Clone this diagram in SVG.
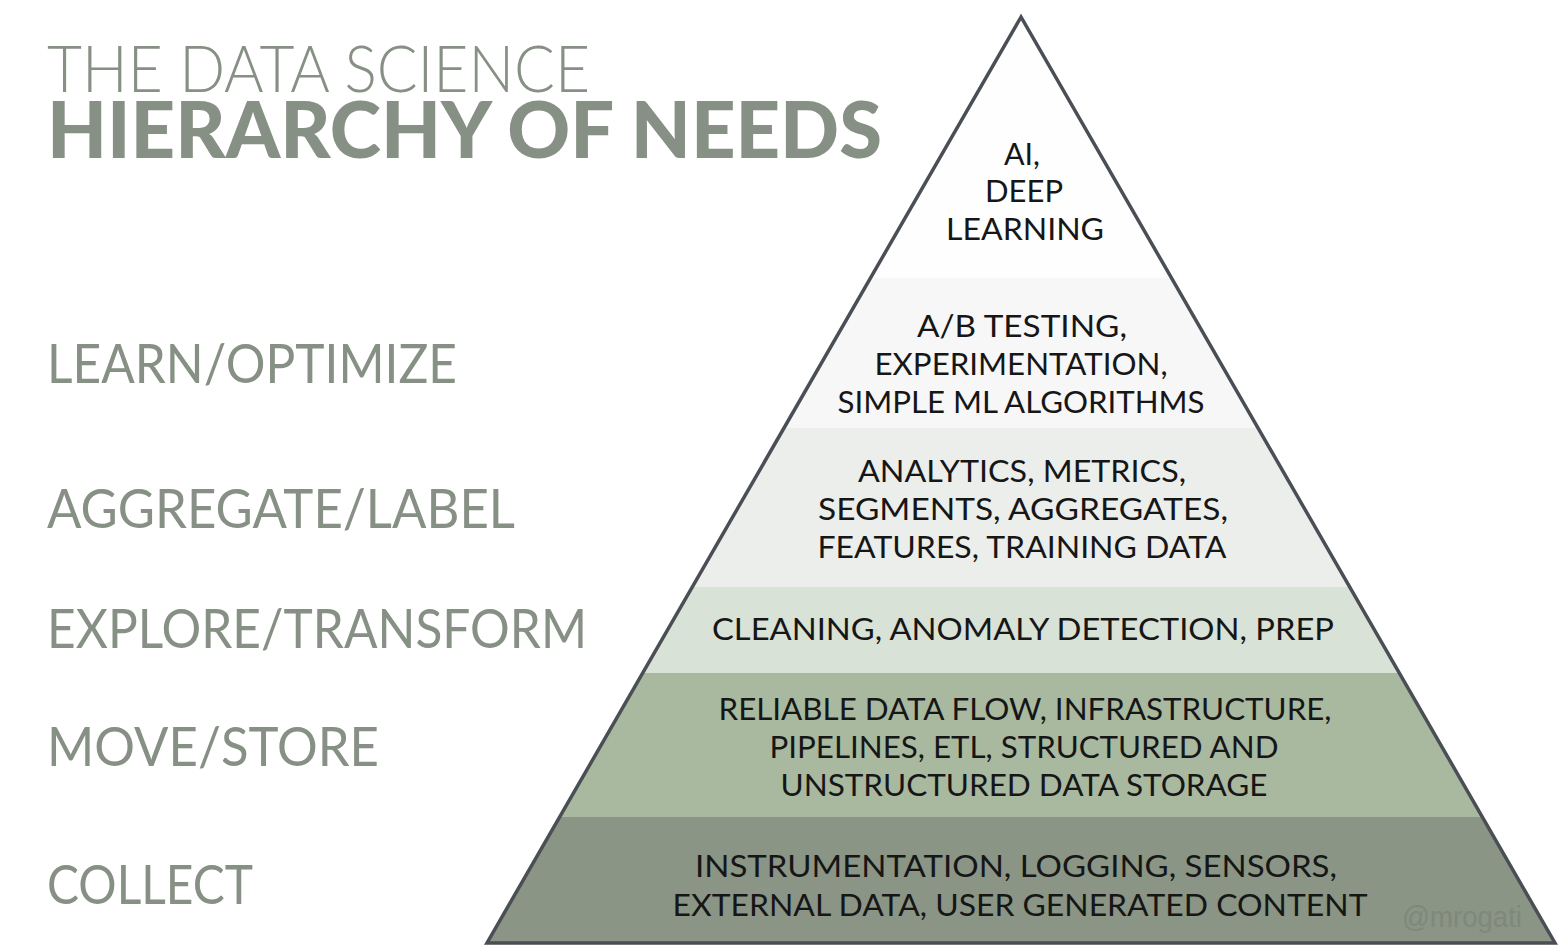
<svg xmlns="http://www.w3.org/2000/svg" width="1564" height="951" viewBox="0 0 1564 951">
  <defs>
    <clipPath id="pyr">
      <polygon points="1021,17 487,943 1555,943"/>
    </clipPath>
    <style>
      .title { font-family: Lato, "Liberation Sans", sans-serif; fill: #879084; }
      .lvl { font-family: Lato, "Liberation Sans", sans-serif; font-size: 54px; fill: #879084; }
      .band { font-family: Lato, "Liberation Sans", sans-serif; font-size: 30px; fill: #161616; text-anchor: middle; }
      .edge { fill: none; stroke: #4a4f55; stroke-width: 3.5; stroke-linejoin: miter; }
    </style>
  </defs>
  <rect width="1564" height="951" fill="#ffffff"/>

  <!-- heading -->
  <g id="heading">
    <text class="title" x="47" y="92" font-size="65" font-weight="300" textLength="543" lengthAdjust="spacingAndGlyphs">THE DATA SCIENCE</text>
    <text class="title" x="47" y="158" font-size="78" font-weight="900" textLength="835" lengthAdjust="spacingAndGlyphs">HIERARCHY OF NEEDS</text>
  </g>

  <!-- level names on the left -->
  <g id="levels">
    <text class="lvl" x="47" y="383" textLength="410" lengthAdjust="spacingAndGlyphs">LEARN/OPTIMIZE</text>
    <text class="lvl" x="47" y="528" textLength="468" lengthAdjust="spacingAndGlyphs">AGGREGATE/LABEL</text>
    <text class="lvl" x="47" y="648" textLength="540" lengthAdjust="spacingAndGlyphs">EXPLORE/TRANSFORM</text>
    <text class="lvl" x="47" y="766" textLength="332" lengthAdjust="spacingAndGlyphs">MOVE/STORE</text>
    <text class="lvl" x="47" y="904" textLength="206" lengthAdjust="spacingAndGlyphs">COLLECT</text>
  </g>

  <!-- pyramid bands -->
  <g id="pyramid" clip-path="url(#pyr)">
    <rect id="tier-ai" x="480" y="10" width="1090" height="268" fill="#fefefe"/>
    <rect id="tier-learn" x="480" y="278" width="1090" height="150" fill="#f7f7f7"/>
    <rect id="tier-aggregate" x="480" y="428" width="1090" height="159" fill="#eceeeb"/>
    <rect id="tier-explore" x="480" y="587" width="1090" height="86" fill="#d9e2d6"/>
    <rect id="tier-move" x="480" y="673" width="1090" height="144" fill="#a8b9a0"/>
    <rect id="tier-collect" x="480" y="817" width="1090" height="130" fill="#8a9585"/>
  </g>
  <polygon class="edge" points="1021,17 487,943 1555,943"/>

  <!-- band captions -->
  <g id="captions">
    <text class="band" x="1022" y="165" textLength="36" lengthAdjust="spacingAndGlyphs">AI,</text>
    <text class="band" x="1024" y="202" textLength="78" lengthAdjust="spacingAndGlyphs">DEEP</text>
    <text class="band" x="1025" y="240" textLength="158" lengthAdjust="spacingAndGlyphs">LEARNING</text>

    <text class="band" x="1022" y="337" textLength="210" lengthAdjust="spacingAndGlyphs">A/B TESTING,</text>
    <text class="band" x="1021" y="375" textLength="293" lengthAdjust="spacingAndGlyphs">EXPERIMENTATION,</text>
    <text class="band" x="1021" y="413" textLength="367" lengthAdjust="spacingAndGlyphs">SIMPLE ML ALGORITHMS</text>

    <text class="band" x="1022" y="482" textLength="328" lengthAdjust="spacingAndGlyphs">ANALYTICS, METRICS,</text>
    <text class="band" x="1023" y="520" textLength="410" lengthAdjust="spacingAndGlyphs">SEGMENTS, AGGREGATES,</text>
    <text class="band" x="1022" y="558" textLength="409" lengthAdjust="spacingAndGlyphs">FEATURES, TRAINING DATA</text>

    <text class="band" x="1023" y="640" textLength="622" lengthAdjust="spacingAndGlyphs">CLEANING, ANOMALY DETECTION, PREP</text>

    <text class="band" x="1025" y="720" textLength="613" lengthAdjust="spacingAndGlyphs">RELIABLE DATA FLOW, INFRASTRUCTURE,</text>
    <text class="band" x="1024" y="758" textLength="509" lengthAdjust="spacingAndGlyphs">PIPELINES, ETL, STRUCTURED AND</text>
    <text class="band" x="1024" y="796" textLength="487" lengthAdjust="spacingAndGlyphs">UNSTRUCTURED DATA STORAGE</text>

    <text class="band" x="1016" y="877" textLength="642" lengthAdjust="spacingAndGlyphs">INSTRUMENTATION, LOGGING, SENSORS,</text>
    <text class="band" x="1020" y="916" textLength="695" lengthAdjust="spacingAndGlyphs">EXTERNAL DATA, USER GENERATED CONTENT</text>
  </g>

  <text id="credit" x="1402" y="927" font-family="'Liberation Sans', Arial, sans-serif" font-size="30" fill="#7e887b" textLength="120" lengthAdjust="spacingAndGlyphs">@mrogati</text>
</svg>
